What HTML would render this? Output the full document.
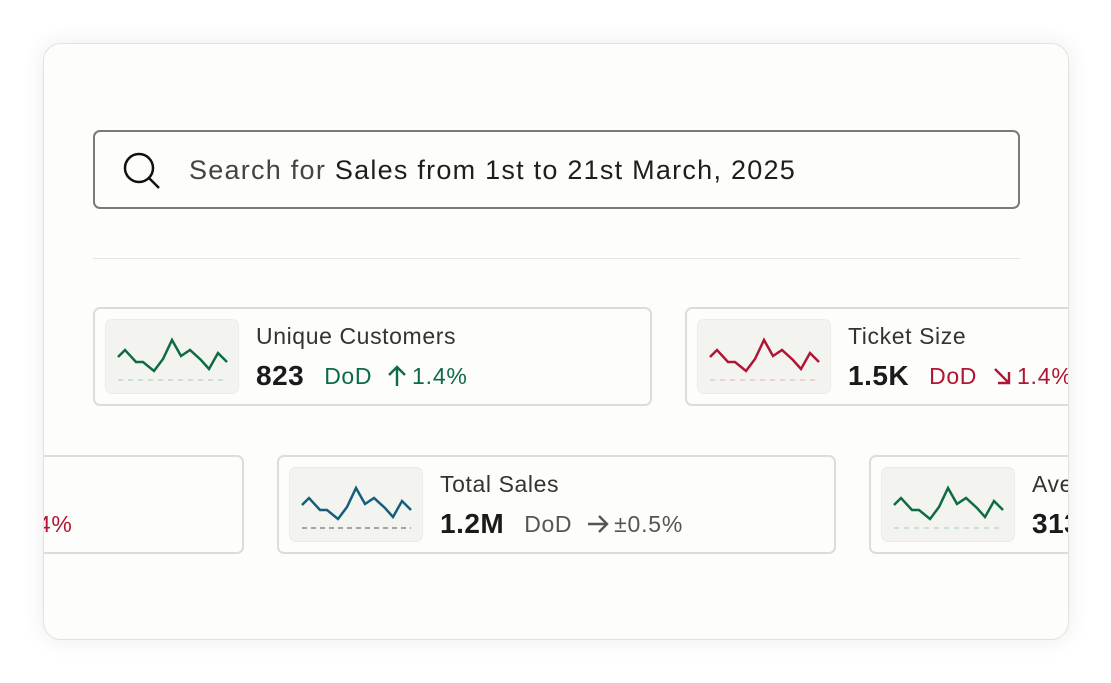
<!DOCTYPE html>
<html><head><style>
*{margin:0;padding:0;box-sizing:border-box}
body{width:1111px;height:683px;background:#fff;font-family:"Liberation Sans",sans-serif;position:relative;overflow:hidden}
.frame{position:absolute;left:43px;top:43px;width:1026px;height:597px;border:1px solid #e2e2df;border-radius:18px;background:#fdfdfb;box-shadow:0 0 24px rgba(0,0,0,0.08);overflow:hidden}
.search{position:absolute;left:49px;top:86px;width:927px;height:79px;border:2px solid #7a7a78;border-radius:7px;background:#fdfdfb}
.search svg{position:absolute;left:26px;top:18px}
.search .t{position:absolute;left:94px;top:23px;font-size:27px;color:#444;letter-spacing:1.25px;white-space:nowrap}
.search .t b{font-weight:normal;color:#1e1e1e}
.div{position:absolute;left:49px;top:214px;width:927px;height:1px;background:#e4e4e1}
.card{position:absolute;width:559px;height:99px;border:2px solid #dcdcda;border-radius:7px;background:#fdfdfb}
.spark{position:absolute;left:10px;top:10px;width:134px;height:75px;background:#f3f3f0;border:1px solid #ebebe8;border-radius:7px}
.title{position:absolute;left:161px;top:14px;font-size:23px;color:#333;white-space:nowrap;letter-spacing:0.6px}
.val{position:absolute;left:161px;top:51px;font-size:28px;font-weight:bold;color:#1a1a1a;white-space:nowrap;letter-spacing:0.5px;display:flex;align-items:center}
.val .d{font-size:23px;font-weight:normal;margin-left:20px;letter-spacing:0.6px}
.val svg{margin-left:14px}
.val .p{font-size:23px;font-weight:normal;margin-left:4px;letter-spacing:0.8px}
.g{color:#0d6b45}.r{color:#b01533}.n{color:#555}
</style></head><body>
<div class="frame">
<div class="search">
<svg width="44" height="44" viewBox="0 0 44 44"><circle cx="18" cy="18" r="14" fill="none" stroke="#111" stroke-width="2.5"/><line x1="28" y1="28" x2="38" y2="38" stroke="#111" stroke-width="2.5"/></svg>
<div class="t">Search for <b>Sales from 1st to 21st March, 2025</b></div>
</div>
<div class="div"></div>

<div class="card" style="left:49px;top:263px">
<div class="spark"><svg width="134" height="75"><polyline points="12,37 19,30 30,42 37,42 48,51 57,39 66,20 75,36 84,30 95,40 103,49 112,33 121,42" fill="none" stroke="#0d6b45" stroke-width="2.5"/><line x1="12" y1="60" x2="121" y2="60" stroke="#a9cdbb" stroke-dasharray="5,5"/></svg></div>
<div class="title">Unique Customers</div>
<div class="val">823<span class="d g">DoD</span><svg width="22" height="24" viewBox="0 0 22 24"><path d="M11 22V3M3 11l8-8 8 8" fill="none" stroke="#0d6b45" stroke-width="2.4"/></svg><span class="p g">1.4%</span></div>
</div>

<div class="card" style="left:641px;top:263px">
<div class="spark"><svg width="134" height="75"><polyline points="12,37 19,30 30,42 37,42 48,51 57,39 66,20 75,36 84,30 95,40 103,49 112,33 121,42" fill="none" stroke="#b01533" stroke-width="2.5"/><line x1="12" y1="60" x2="121" y2="60" stroke="#e2b3bd" stroke-dasharray="5,5"/></svg></div>
<div class="title">Ticket Size</div>
<div class="val">1.5K<span class="d r">DoD</span><svg width="22" height="24" viewBox="0 0 22 24"><path d="M4 5l14 14M18 8v11H7" fill="none" stroke="#b01533" stroke-width="2.4"/></svg><span class="p r">1.4%</span></div>
</div>

<div class="card" style="left:-359px;top:411px">
<div class="spark"></div>
<div class="val">1.5K<span class="d r">DoD</span><svg width="22" height="24" viewBox="0 0 22 24"><path d="M4 5l14 14M18 8v11H7" fill="none" stroke="#b01533" stroke-width="2.4"/></svg><span class="p r">1.4%</span></div>
</div>

<div class="card" style="left:233px;top:411px">
<div class="spark"><svg width="134" height="75"><polyline points="12,37 19,30 30,42 37,42 48,51 57,39 66,20 75,36 84,30 95,40 103,49 112,33 121,42" fill="none" stroke="#155e7a" stroke-width="2.5"/><line x1="12" y1="60" x2="121" y2="60" stroke="#555" stroke-dasharray="5,4"/></svg></div>
<div class="title">Total Sales</div>
<div class="val">1.2M<span class="d n">DoD</span><svg width="24" height="24" viewBox="0 0 24 24"><path d="M2 12h19M13 4l8 8-8 8" fill="none" stroke="#555" stroke-width="2.4"/></svg><span class="p n">±0.5%</span></div>
</div>

<div class="card" style="left:825px;top:411px">
<div class="spark"><svg width="134" height="75"><polyline points="12,37 19,30 30,42 37,42 48,51 57,39 66,20 75,36 84,30 95,40 103,49 112,33 121,42" fill="none" stroke="#0d6b45" stroke-width="2.5"/><line x1="12" y1="60" x2="121" y2="60" stroke="#a9cdbb" stroke-dasharray="5,5"/></svg></div>
<div class="title">Average Sale</div>
<div class="val">313<span class="d g">DoD</span></div>
</div>
</div>
</body></html>
